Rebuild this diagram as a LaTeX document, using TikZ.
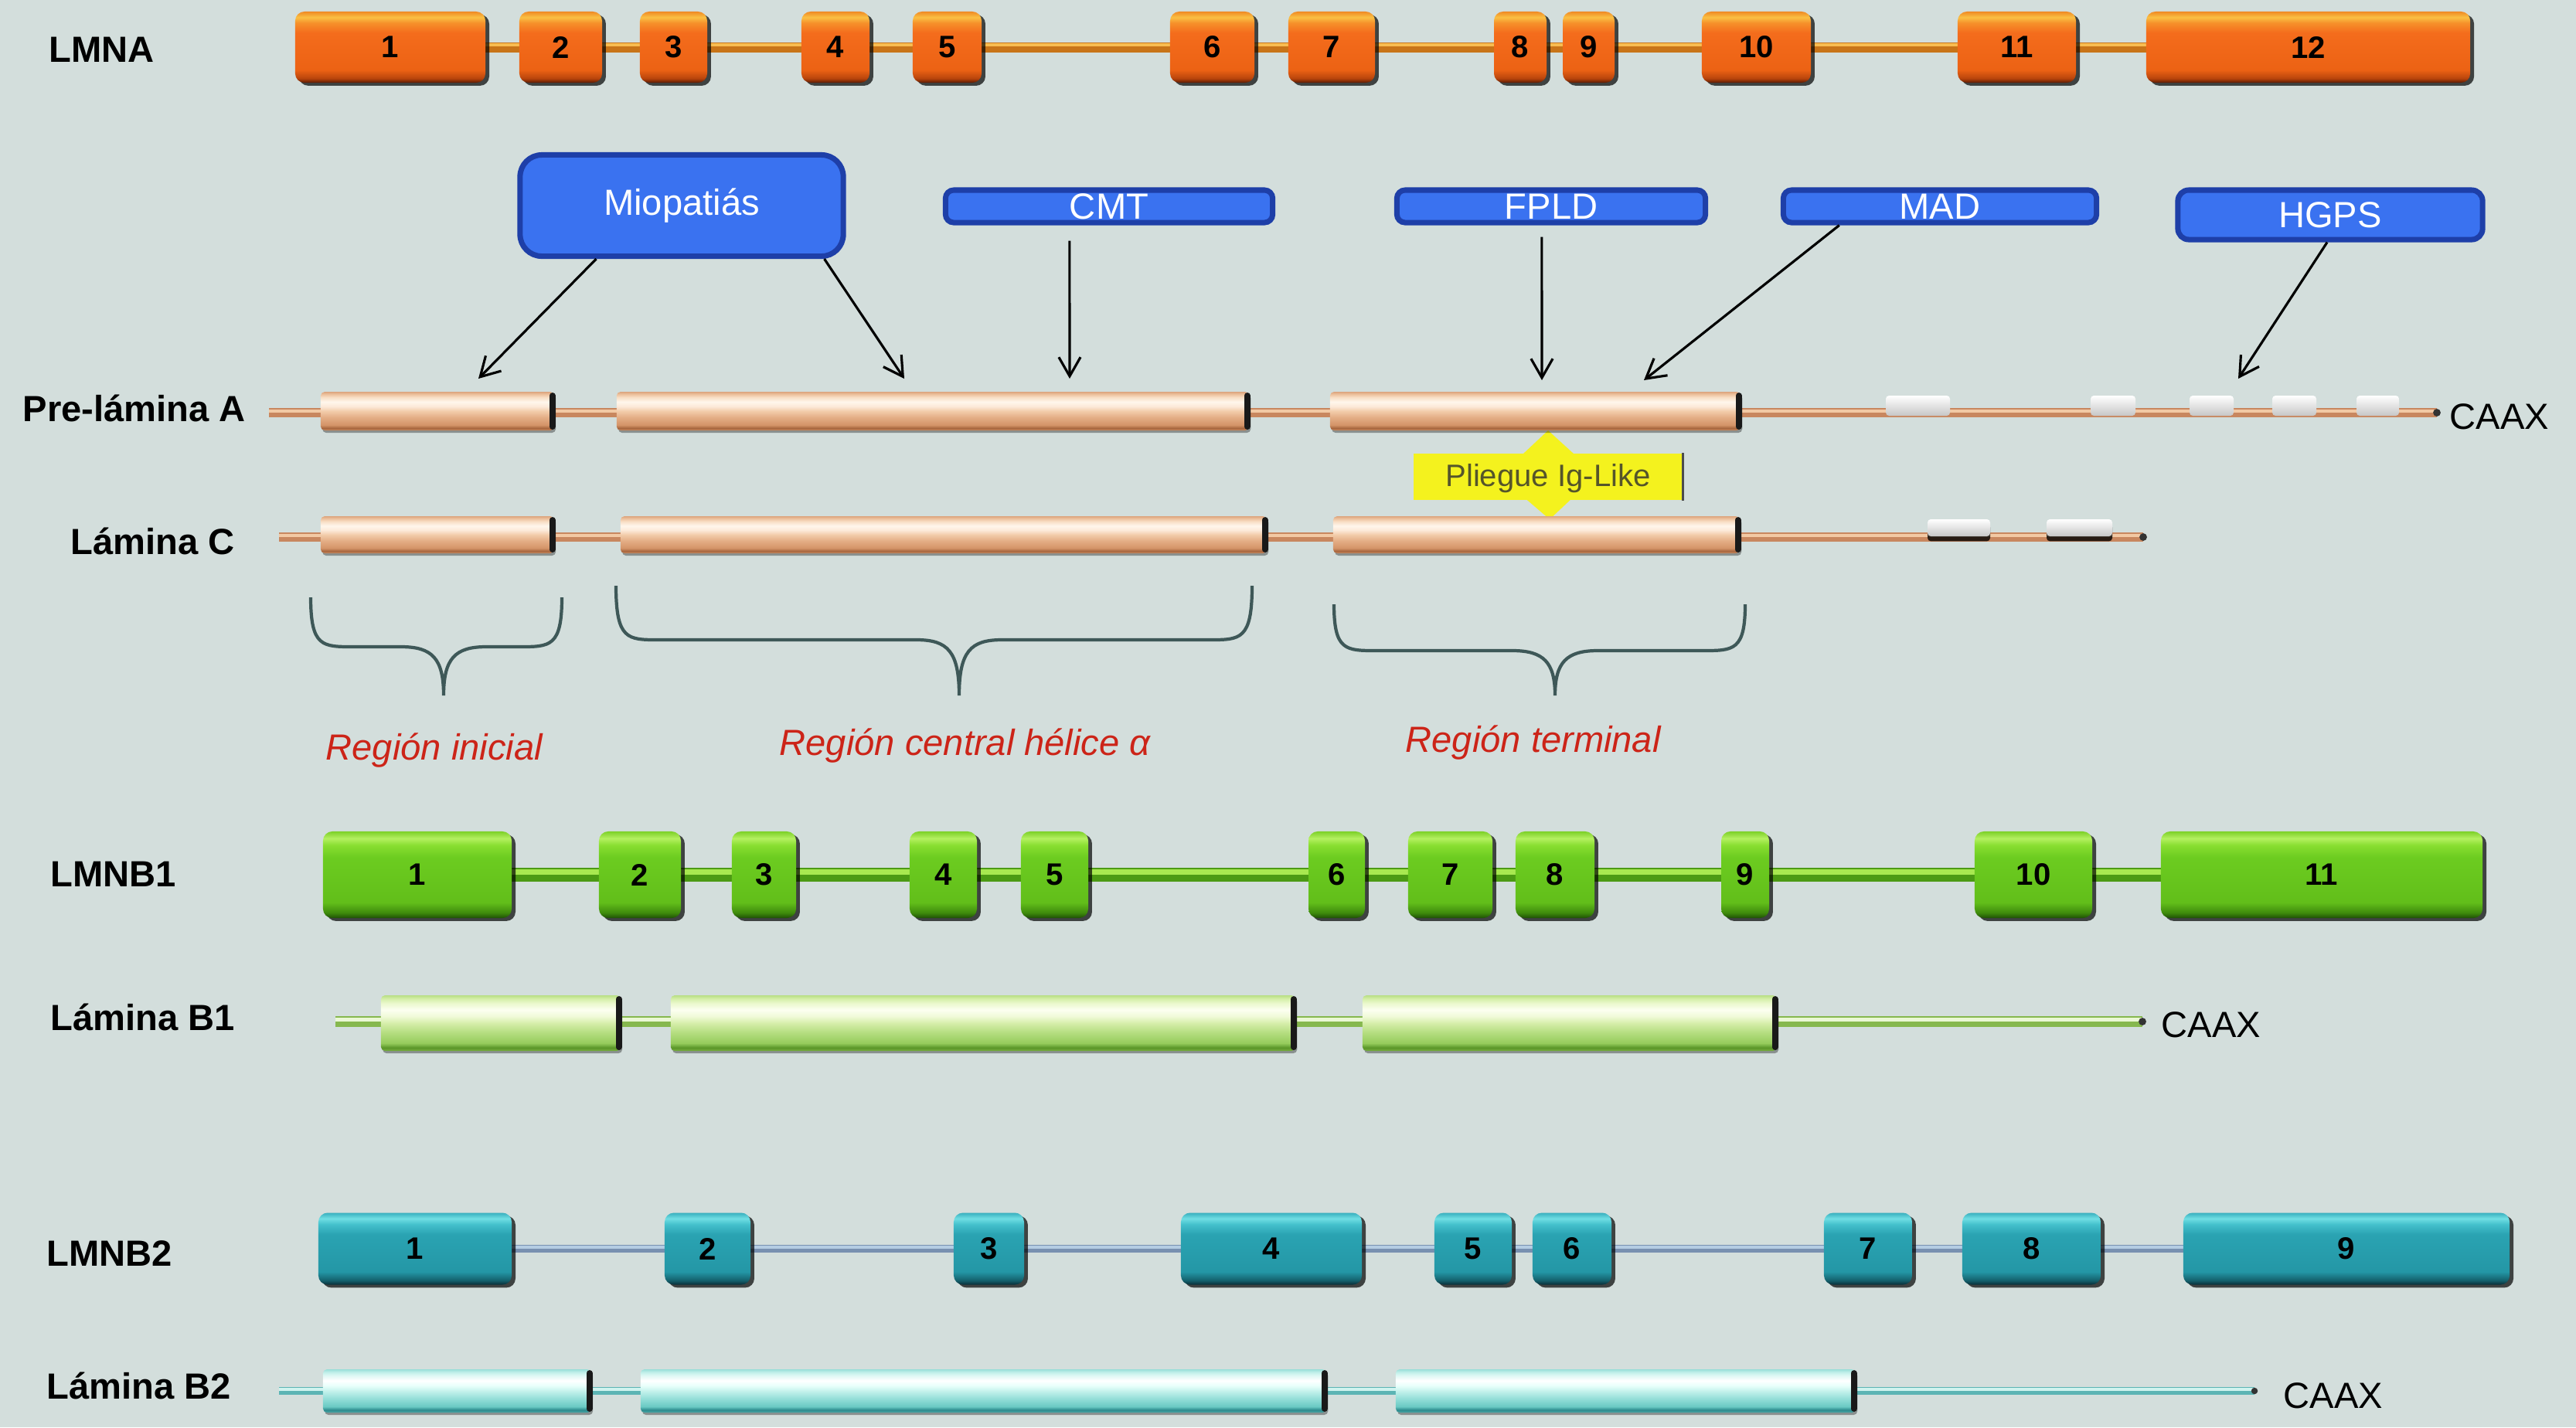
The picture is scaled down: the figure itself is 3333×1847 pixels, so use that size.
\documentclass[tikz,border=0pt]{standalone}
\usepackage{fontspec}
\setmainfont{Liberation Sans}
\usetikzlibrary{arrows.meta,shadows,calc}
\pgfdeclarelayer{bglayer}
\pgfdeclarelayer{lines}
\pgfsetlayers{bglayer,lines,main}

\definecolor{bgc}{HTML}{D3DEDC}
\definecolor{or1}{HTML}{5A1A02}\definecolor{or2}{HTML}{B8440C}\definecolor{or3}{HTML}{EC6214}
\definecolor{or4}{HTML}{F46C1C}\definecolor{or5}{HTML}{F6902A}\definecolor{or6}{HTML}{FAC044}\definecolor{or7}{HTML}{F08A24}
\definecolor{gr1}{HTML}{1E5004}\definecolor{gr2}{HTML}{3E8A0C}\definecolor{gr3}{HTML}{62BE1A}
\definecolor{gr4}{HTML}{6CCC20}\definecolor{gr5}{HTML}{88DE30}\definecolor{gr6}{HTML}{B4F060}\definecolor{gr7}{HTML}{7CD028}
\definecolor{tl1}{HTML}{082E38}\definecolor{tl2}{HTML}{14606C}\definecolor{tl3}{HTML}{2497A6}
\definecolor{tl4}{HTML}{2AA3B2}\definecolor{tl5}{HTML}{44C0CC}\definecolor{tl6}{HTML}{70DEE4}\definecolor{tl7}{HTML}{3AB0BE}
% peach
\definecolor{pe1}{HTML}{C88A60}\definecolor{pe2}{HTML}{A8663E}\definecolor{pe3}{HTML}{D49468}\definecolor{pe4}{HTML}{E4AE86}
\definecolor{pe5}{HTML}{F2CCAA}\definecolor{pe6}{HTML}{FCE9D8}\definecolor{pe7}{HTML}{FFF6EC}\definecolor{pe8}{HTML}{F8DEC4}
\definecolor{pe9}{HTML}{ECC09C}\definecolor{pe10}{HTML}{DCA47C}
% light green
\definecolor{lg1}{HTML}{78AE40}\definecolor{lg2}{HTML}{5A9628}\definecolor{lg3}{HTML}{96CC5C}\definecolor{lg4}{HTML}{B6DE82}
\definecolor{lg5}{HTML}{D6EEAA}\definecolor{lg6}{HTML}{F0FAD8}\definecolor{lg7}{HTML}{FCFFF0}\definecolor{lg8}{HTML}{EAF8CC}
\definecolor{lg9}{HTML}{D4EEA8}\definecolor{lg10}{HTML}{B8DE84}
% light aqua
\definecolor{la1}{HTML}{48A8A8}\definecolor{la2}{HTML}{2C8A8C}\definecolor{la3}{HTML}{6ACAC4}\definecolor{la4}{HTML}{98E0DA}
\definecolor{la5}{HTML}{C4F2EC}\definecolor{la6}{HTML}{E8FFFB}\definecolor{la7}{HTML}{FFFFFF}\definecolor{la8}{HTML}{DDF8F4}
\definecolor{la9}{HTML}{BDEEE8}\definecolor{la10}{HTML}{98DED8}
\definecolor{inA1}{HTML}{C87418}\definecolor{inA2}{HTML}{F8BC50}
\definecolor{inB1}{HTML}{4C9A14}\definecolor{inB2}{HTML}{A8E850}
\definecolor{inC1}{HTML}{7890B0}\definecolor{inC2}{HTML}{B4CCE2}
\definecolor{pL1}{HTML}{C8875F}\definecolor{pL2}{HTML}{F2C9A4}
\definecolor{qL1}{HTML}{86B84E}\definecolor{qL2}{HTML}{EAF8D4}
\definecolor{rL1}{HTML}{5CB4B4}\definecolor{rL2}{HTML}{CFF3EF}
\definecolor{disF}{HTML}{3A72F0}\definecolor{disD}{HTML}{1E3FA8}
\definecolor{ylw}{HTML}{F4F21E}\definecolor{igT}{HTML}{55552A}
\definecolor{regC}{HTML}{CC2418}\definecolor{brcC}{HTML}{3E5858}

\pgfdeclareverticalshading{orex}{100bp}{color(0bp)=(or1); color(25bp)=(or1); color(28bp)=(or2); color(34bp)=(or3); color(60bp)=(or4); color(67bp)=(or5); color(71bp)=(or6); color(75bp)=(or7); color(100bp)=(or7)}
\pgfdeclareverticalshading{grex}{100bp}{color(0bp)=(gr1); color(25bp)=(gr1); color(28bp)=(gr2); color(34bp)=(gr3); color(60bp)=(gr4); color(67bp)=(gr5); color(71bp)=(gr6); color(75bp)=(gr7); color(100bp)=(gr7)}
\pgfdeclareverticalshading{tlex}{100bp}{color(0bp)=(tl1); color(25bp)=(tl1); color(28bp)=(tl2); color(34bp)=(tl3); color(60bp)=(tl4); color(67bp)=(tl5); color(71bp)=(tl6); color(75bp)=(tl7); color(100bp)=(tl7)}
\pgfdeclareverticalshading{pech}{100bp}{color(0bp)=(pe1); color(25bp)=(pe1); color(28bp)=(pe2); color(32bp)=(pe3); color(42bp)=(pe4); color(50bp)=(pe5); color(56bp)=(pe6); color(62bp)=(pe7); color(68bp)=(pe8); color(72bp)=(pe9); color(75bp)=(pe10); color(100bp)=(pe10)}
\pgfdeclareverticalshading{lgrn}{100bp}{color(0bp)=(lg1); color(25bp)=(lg1); color(28bp)=(lg2); color(32bp)=(lg3); color(42bp)=(lg4); color(50bp)=(lg5); color(56bp)=(lg6); color(62bp)=(lg7); color(68bp)=(lg8); color(72bp)=(lg9); color(75bp)=(lg10); color(100bp)=(lg10)}
\pgfdeclareverticalshading{laqu}{100bp}{color(0bp)=(la1); color(25bp)=(la1); color(28bp)=(la2); color(32bp)=(la3); color(42bp)=(la4); color(50bp)=(la5); color(56bp)=(la6); color(62bp)=(la7); color(68bp)=(la8); color(72bp)=(la9); color(75bp)=(la10); color(100bp)=(la10)}

% style, name, x1, x2, y, label
\newcommand\exon[6]{\pgfmathsetmacro\exC{(#3+#4)/2}\pgfmathsetmacro\exW{(#4-#3)/100}%
  \node[#1,minimum width=\exW cm] (#2) at (\exC,#5) {#6};}
% style, name, x1, x2, y
\newcommand\protseg[5]{\pgfmathsetmacro\exC{(#3+#4)/2}\pgfmathsetmacro\exW{(#4-#3)/100}%
  \node[#1,minimum width=\exW cm] (#2) at (\exC,#5) {};%
  \draw[segcap] ([xshift=-0.9pt,yshift=-1.6pt]#2.north east) -- ([xshift=-0.9pt,yshift=1.6pt]#2.south east);}
% style, name, x1, x2, y
\newcommand\wbox[5]{\pgfmathsetmacro\exC{(#3+#4)/2}\pgfmathsetmacro\exW{(#4-#3)/100}%
  \node[#1,minimum width=\exW cm] (#2) at (\exC,#5) {};}
% xL xR xM yT yH yTip
\newcommand\regbrace[6]{\draw[brc] (#1,#4) .. controls (#1,#5) and (#1+15,#5) .. (#1+55,#5) -- (#3-55,#5) .. controls (#3-15,#5) and (#3,#5+15) .. (#3,#6) .. controls (#3,#5+15) and (#3+15,#5) .. (#3+55,#5) -- (#2-55,#5) .. controls (#2-15,#5) and (#2,#5) .. (#2,#4);}

\begin{document}
\begin{tikzpicture}[x=0.01cm,y=-0.01cm,
  lbl/.style={font=\fontsize{13.4}{16}\selectfont\bfseries, inner sep=0pt, anchor=base west},
  caax/.style={font=\fontsize{13.4}{16}\selectfont, inner sep=0pt, anchor=base west},
  exbase/.style={rectangle, rounded corners=3.4pt, inner sep=0pt, font=\fontsize{11.4}{13}\selectfont\bfseries,
     drop shadow={shadow xshift=1.4pt, shadow yshift=-1.1pt, fill=black, opacity=0.7}},
  exOr/.style={exbase, shading=orex, minimum height=0.92cm},
  exGr/.style={exbase, shading=grex, minimum height=1.12cm},
  exTl/.style={exbase, shading=tlex, minimum height=0.93cm},
  sgbase/.style={rectangle, rounded corners=1.5pt, inner sep=0pt,
     drop shadow={shadow xshift=0.6pt, shadow yshift=-0.9pt, fill=black, opacity=0.35}},
  sgA/.style={sgbase, shading=pech, minimum height=0.50cm},
  sgAc/.style={sgbase, shading=pech, minimum height=0.48cm},
  sgB/.style={sgbase, shading=lgrn, minimum height=0.72cm},
  sgC/.style={sgbase, shading=laqu, minimum height=0.56cm},
  segcap/.style={line width=2.2pt, black!90, line cap=round},
  dis/.style={rectangle, fill=disF, draw=disD, line width=2pt, text=white, font=\fontsize{13.4}{16}\selectfont, inner sep=0pt},
  arr/.style={line width=0.9pt, black, -{Straight Barb[length=7pt,width=8pt,line width=0.9pt]}},
  brc/.style={line width=1.2pt, brcC},
  reg/.style={font=\fontsize{13.4}{16}\selectfont\itshape, text=regC, inner sep=0pt, anchor=base west},
  wbx/.style={rectangle, rounded corners=1.2pt, inner sep=0pt, top color=white, bottom color=black!22, minimum height=0.26cm},
  wbxc/.style={wbx, minimum height=0.22cm, drop shadow={shadow xshift=0pt, shadow yshift=-1.8pt, fill=black, opacity=0.8}},
]
\begin{pgfonlayer}{bglayer}
\fill[bgc] (0,0) rectangle (3333,1847);
\end{pgfonlayer}
\useasboundingbox (0,0) rectangle (3333,1847);

% ---------------- LMNA ----------------
\node[lbl] (lLMNA) at (63,80) {LMNA};
\exon{exOr}{a1}{382}{628}{61}{1}
\exon{exOr}{a2}{672}{779}{61}{2}
\exon{exOr}{a3}{828}{915}{61}{3}
\exon{exOr}{a4}{1037}{1125}{61}{4}
\exon{exOr}{a5}{1181}{1270}{61}{5}
\exon{exOr}{a6}{1514}{1623}{61}{6}
\exon{exOr}{a7}{1667}{1779}{61}{7}
\exon{exOr}{a8}{1933}{2001}{61}{8}
\exon{exOr}{a9}{2022}{2089}{61}{9}
\exon{exOr}{a10}{2202}{2343}{61}{10}
\exon{exOr}{a11}{2533}{2686}{61}{11}
\exon{exOr}{a12}{2777}{3196}{61}{12}
\begin{pgfonlayer}{lines}
\draw[line width=3.7pt, inA1] (a1.center) -- (a12.center);
\draw[line width=1.3pt, inA2] ([yshift=0.8pt]a1.center) -- ([yshift=0.8pt]a12.center);
\end{pgfonlayer}

% ---------------- disease boxes ----------------
\node[dis, rounded corners=8pt, minimum width=4.18cm, minimum height=1.31cm] (mio) at (882,266) {Miopatiás};
\node[dis, rounded corners=3pt, minimum width=4.23cm, minimum height=0.42cm] (cmt) at (1435,267) {CMT};
\node[dis, rounded corners=3pt, minimum width=3.99cm, minimum height=0.42cm] (fpld) at (2007,267) {FPLD};
\node[dis, rounded corners=3pt, minimum width=4.05cm, minimum height=0.42cm] (mad) at (2510,267) {MAD};
\node[dis, rounded corners=4pt, minimum width=3.94cm, minimum height=0.64cm] (hgps) at (3015,278) {HGPS};

\coordinate (tm1) at (619,490);
\coordinate (tm2) at (1170,490);
\coordinate (tcmt) at (1384,490);
\coordinate (tfp) at (1995,492);
\coordinate (tmad) at (2127,492);
\coordinate (thg) at (2896,490);
\draw[arr] ($(mio.south west)!0.24!(mio.south east)$) -- (tm1);
\draw[arr] ($(mio.south west)!0.934!(mio.south east)$) -- (tm2);
\draw[arr, shorten <=5.7pt] ($(cmt.south west)!0.381!(cmt.south east)$) -- (tcmt);
\draw[arr, shorten <=4.3pt] ($(fpld.south west)!0.47!(fpld.south east)$) -- (tfp);
\draw[arr] ($(mad.south west)!0.184!(mad.south east)$) -- (tmad);
\draw[arr] ($(hgps.south west)!0.49!(hgps.south east)$) -- (thg);

% ---------------- Pliegue Ig-Like (diamond behind) ----------------
\fill[ylw] (2003,557) -- (2037,588) -- (2037,642) -- (2005,672) -- (1970,642) -- (1970,588) -- cycle;

% ---------------- Pre-lamina A ----------------
\node[lbl] (lPA) at (29,545) {Pre-lámina A};
\coordinate (pAs) at (348,534);
\coordinate (pAe) at (3153,534);
\begin{pgfonlayer}{lines}
\draw[line width=3.4pt, pL1] (pAs) -- (pAe);
\draw[line width=1.3pt, pL2] ([yshift=0.6pt]pAs) -- ([yshift=0.6pt]pAe);
\end{pgfonlayer}
\fill[black!80] (pAe) circle (1.4pt);
\protseg{sgA}{pa1}{415}{717}{532}
\protseg{sgA}{pa2}{798}{1616}{532}
\protseg{sgA}{pa3}{1721}{2252}{532}
\wbox{wbx}{pw1}{2440}{2523}{525}
\wbox{wbx}{pw2}{2705}{2763}{525}
\wbox{wbx}{pw3}{2833}{2890}{525}
\wbox{wbx}{pw4}{2940}{2997}{525}
\wbox{wbx}{pw5}{3049}{3104}{525}
\node[caax] (caA) at (3169,555) {CAAX};

% ---------------- Lamina C ----------------
\node[lbl] (lLC) at (91,717) {Lámina C};
\coordinate (pCs) at (361,695);
\coordinate (pCe) at (2773,695);
\begin{pgfonlayer}{lines}
\draw[line width=3.4pt, pL1] (pCs) -- (pCe);
\draw[line width=1.3pt, pL2] ([yshift=0.6pt]pCs) -- ([yshift=0.6pt]pCe);
\end{pgfonlayer}
\fill[black!80] (pCe) circle (1.4pt);
\protseg{sgAc}{pc1}{415}{717}{692}
\protseg{sgAc}{pc2}{803}{1639}{692}
\protseg{sgAc}{pc3}{1725}{2251}{692}
\wbox{wbxc}{cw1}{2494}{2575}{683}
\wbox{wbxc}{cw2}{2648}{2733}{683}

\node[fill=ylw, minimum width=3.47cm, minimum height=0.60cm, inner sep=0pt, text=igT,
      text height=0.72em, text depth=0pt,
      font=\fontsize{11.4}{13}\selectfont] (ig) at (2003,617) {Pliegue Ig-Like};
\draw[line width=1pt, black!70] (ig.north east) -- (ig.south east);

% ---------------- braces and region labels ----------------
\regbrace{402}{727}{574}{773}{837}{900}
\regbrace{797}{1620}{1241}{758}{828}{900}
\regbrace{1726}{2258}{2012}{782}{842}{900}
\node[reg] (r1) at (421,983) {Región inicial};
\node[reg] (r2) at (1008,977) {Región central hélice α};
\node[reg] (r3) at (1818,973) {Región terminal};

% ---------------- LMNB1 ----------------
\node[lbl] (lB1) at (65,1147) {LMNB1};
\exon{exGr}{b1}{418}{662}{1132}{1}
\exon{exGr}{b2}{775}{881}{1132}{2}
\exon{exGr}{b3}{947}{1030}{1132}{3}
\exon{exGr}{b4}{1177}{1264}{1132}{4}
\exon{exGr}{b5}{1321}{1408}{1132}{5}
\exon{exGr}{b6}{1693}{1766}{1132}{6}
\exon{exGr}{b7}{1822}{1931}{1132}{7}
\exon{exGr}{b8}{1961}{2063}{1132}{8}
\exon{exGr}{b9}{2227}{2289}{1132}{9}
\exon{exGr}{b10}{2555}{2707}{1132}{10}
\exon{exGr}{b11}{2796}{3212}{1132}{11}
\begin{pgfonlayer}{lines}
\draw[line width=5pt, inB1] (b1.center) -- (b11.center);
\draw[line width=2pt, inB2] ([yshift=1pt]b1.center) -- ([yshift=1pt]b11.center);
\end{pgfonlayer}

% ---------------- Lamina B1 ----------------
\node[lbl] (lLB1) at (65,1333) {Lámina B1};
\coordinate (qBs) at (434,1322);
\coordinate (qBe) at (2772,1322);
\begin{pgfonlayer}{lines}
\draw[line width=4pt, qL1] (qBs) -- (qBe);
\draw[line width=1.6pt, qL2] ([yshift=0.7pt]qBs) -- ([yshift=0.7pt]qBe);
\end{pgfonlayer}
\fill[black!80] (qBe) circle (1.4pt);
\protseg{sgB}{lb1}{493}{803}{1324}
\protseg{sgB}{lb2}{868}{1676}{1324}
\protseg{sgB}{lb3}{1763}{2299}{1324}
\node[caax] (caB) at (2796,1342) {CAAX};

% ---------------- LMNB2 ----------------
\node[lbl] (lB2) at (60,1638) {LMNB2};
\exon{exTl}{c1}{412}{662}{1616}{1}
\exon{exTl}{c2}{860}{971}{1616}{2}
\exon{exTl}{c3}{1234}{1325}{1616}{3}
\exon{exTl}{c4}{1528}{1762}{1616}{4}
\exon{exTl}{c5}{1856}{1956}{1616}{5}
\exon{exTl}{c6}{1983}{2085}{1616}{6}
\exon{exTl}{c7}{2360}{2474}{1616}{7}
\exon{exTl}{c8}{2539}{2718}{1616}{8}
\exon{exTl}{c9}{2825}{3247}{1616}{9}
\begin{pgfonlayer}{lines}
\draw[line width=2.8pt, inC1] (c1.center) -- (c9.center);
\draw[line width=1.1pt, inC2] ([yshift=0.5pt]c1.center) -- ([yshift=0.5pt]c9.center);
\end{pgfonlayer}

% ---------------- Lamina B2 ----------------
\node[lbl] (lLB2) at (60,1810) {Lámina B2};
\coordinate (qCs) at (361,1800);
\coordinate (qCe) at (2917,1800);
\begin{pgfonlayer}{lines}
\draw[line width=2.8pt, rL1] (qCs) -- (qCe);
\draw[line width=1.1pt, rL2] ([yshift=0.5pt]qCs) -- ([yshift=0.5pt]qCe);
\end{pgfonlayer}
\fill[black!80] (qCe) circle (1.2pt);
\protseg{sgC}{lc1}{418}{765}{1800}
\protseg{sgC}{lc2}{829}{1716}{1800}
\protseg{sgC}{lc3}{1806}{2401}{1800}
\node[caax] (caC) at (2954,1822) {CAAX};
\end{tikzpicture}
\end{document}
